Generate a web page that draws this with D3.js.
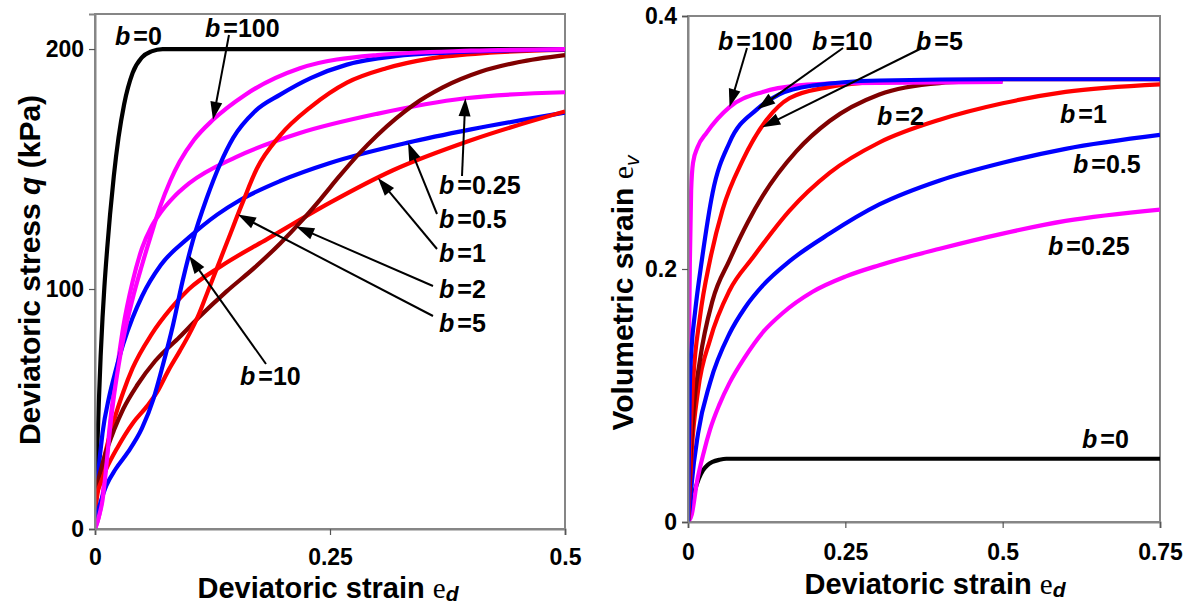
<!DOCTYPE html>
<html><head><meta charset="utf-8">
<script src="https://cdn.jsdelivr.net/npm/d3@7"></script>
<style>
body{margin:0;background:#fff}
text{font-family:"Liberation Sans",Arial,sans-serif;font-weight:bold;fill:#000}
</style></head><body>
<svg id="chart" width="1191" height="607"></svg>
<script>
// ---- Deviatoric stress q (kPa) vs deviatoric strain, one curve per b ----
const qB0   = [[0,0],[0.002,28],[0.004,52],[0.006,72],[0.008,88],[0.01,101],[0.013,117],[0.016,131],[0.02,147],[0.025,163],[0.031,177],[0.04,190],[0.05,196.5],[0.06,199],[0.072,200],[0.5,200]];
const qB025 = [[0,0],[0.004,5],[0.008,14],[0.012,28],[0.016,44],[0.02,57],[0.025,71],[0.03,84],[0.04,103],[0.05,117],[0.06,126],[0.07,132],[0.083,138],[0.1,144],[0.15,155],[0.218,165],[0.3,173],[0.394,179.5],[0.5,182]];
const qB05  = [[0,5],[0.003,21],[0.008,40],[0.015,55],[0.022,66],[0.03,77],[0.04,88],[0.05,97],[0.07,110],[0.1,121.5],[0.13,131],[0.154,137],[0.197,145],[0.25,152.5],[0.333,161],[0.4,166.5],[0.5,173.5]];
const qB1   = [[0,8],[0.005,20],[0.01,30],[0.02,45],[0.03,57],[0.04,67],[0.06,81],[0.081,92],[0.1,100],[0.134,109.5],[0.184,121],[0.25,136],[0.317,149.5],[0.4,162],[0.5,174]];
const qB2   = [[0,15],[0.01,30],[0.02,41],[0.03,50],[0.045,60],[0.064,70],[0.09,80],[0.11,88],[0.14,99],[0.17,109],[0.197,119],[0.22,128.5],[0.24,137.5],[0.26,147],[0.28,156],[0.3,164],[0.32,171],[0.338,176.5],[0.37,184],[0.41,190.5],[0.45,194.5],[0.5,197.5]];
const qB5   = [[0,13],[0.012,25],[0.024,34],[0.04,44],[0.055,51],[0.066,57],[0.078,66],[0.09,74],[0.1,81],[0.11,89],[0.12,99],[0.13,109],[0.141,120],[0.157,136],[0.172,150],[0.197,164],[0.23,176],[0.268,186],[0.31,192],[0.356,196],[0.42,198.5],[0.5,199.6]];
const qB10  = [[0,3],[0.005,10],[0.012,18],[0.022,25],[0.035,32],[0.05,42],[0.062,54],[0.072,68],[0.083,85],[0.093,103],[0.104,120],[0.119,138],[0.133,152],[0.147,163],[0.17,174],[0.197,181],[0.23,188],[0.268,193.5],[0.32,197],[0.374,198.5],[0.5,199.8]];
const qB100 = [[0,0],[0.004,5],[0.008,12],[0.012,26],[0.016,42],[0.02,55],[0.025,68],[0.03,79],[0.04,96],[0.05,110],[0.06,123],[0.069,134],[0.08,145],[0.09,153],[0.105,162],[0.1255,170.5],[0.16,181],[0.218,192],[0.3,197.5],[0.4,199.3],[0.5,200]];

// ---- Volumetric strain vs deviatoric strain, one curve per b ----
const evB0   = [[0,0],[0.003,0.006],[0.006,0.015],[0.011,0.025],[0.017,0.034],[0.024,0.041],[0.031,0.045],[0.039,0.0475],[0.05,0.0492],[0.061,0.05],[0.75,0.05]];
const evB025 = [[0,0],[0.006,0.006],[0.014,0.031],[0.025,0.055],[0.035,0.073],[0.05,0.093],[0.066,0.11],[0.09,0.13],[0.119,0.15],[0.15,0.165],[0.198,0.182],[0.25,0.194],[0.304,0.203],[0.4,0.216],[0.5,0.228],[0.6,0.238],[0.75,0.247]];
const evB05  = [[0,0],[0.003,0.012],[0.006,0.031],[0.016,0.07],[0.035,0.11],[0.066,0.149],[0.09,0.169],[0.119,0.187],[0.161,0.206],[0.225,0.228],[0.304,0.251],[0.4,0.27],[0.5,0.284],[0.6,0.295],[0.75,0.306]];
const evB1   = [[0,0],[0.002,0.02],[0.006,0.057],[0.016,0.104],[0.035,0.144],[0.066,0.183],[0.103,0.209],[0.161,0.246],[0.225,0.276],[0.304,0.3],[0.4,0.318],[0.5,0.331],[0.6,0.34],[0.75,0.346]];
const evB2   = [[0,0],[0.003,0.04],[0.008,0.083],[0.019,0.128],[0.039,0.175],[0.066,0.207],[0.095,0.237],[0.119,0.258],[0.172,0.293],[0.225,0.317],[0.304,0.338],[0.4,0.347],[0.5,0.349]];
const evB5   = [[0,0],[0.003,0.057],[0.008,0.11],[0.019,0.162],[0.035,0.207],[0.055,0.247],[0.087,0.286],[0.125,0.318],[0.161,0.335],[0.225,0.344],[0.304,0.348],[0.5,0.35],[0.75,0.35]];
const evB10  = [[0,0],[0.001,0.04],[0.003,0.11],[0.006,0.14],[0.011,0.165],[0.022,0.207],[0.039,0.26],[0.066,0.3],[0.109,0.326],[0.145,0.338],[0.198,0.345],[0.304,0.349],[0.5,0.35],[0.75,0.35]];
const evB100 = [[0,0],[0.001,0.08],[0.002,0.16],[0.003,0.207],[0.005,0.262],[0.008,0.284],[0.015,0.296],[0.03,0.308],[0.066,0.328],[0.119,0.34],[0.172,0.345],[0.252,0.347],[0.5,0.348]];

// tick values
const qTicksX  = [0, 0.25, 0.5];
const qTicksY  = [0, 100, 200];
const evTicksX = [0, 0.25, 0.5, 0.75];
const evTicksY = [0, 0.2, 0.4];

const COL = {black:"#000000", magenta:"#ff00ff", blue:"#0000ff", red:"#ff0000", maroon:"#800000"};

const svg = d3.select("#chart");

// value of a curve at strain x (linear between stored points)
function valueAt(curve, x){
  for (let i = 1; i < curve.length; i++){
    if (x <= curve[i][0]){
      const [x0,y0] = curve[i-1], [x1,y1] = curve[i];
      return y0 + (y1 - y0) * (x - x0) / (x1 - x0);
    }
  }
  return curve[curve.length-1][1];
}

function arrow(g, x1, y1, x2, y2){
  const dx = x2 - x1, dy = y2 - y1, L = Math.hypot(dx, dy), ux = dx / L, uy = dy / L;
  const hl = 18, hw = 6;
  const bx = x2 - ux * hl, by = y2 - uy * hl;
  g.append("line").attr("x1", x1).attr("y1", y1).attr("x2", bx + ux*2).attr("y2", by + uy*2)
    .attr("stroke", "#000").attr("stroke-width", 2);
  g.append("path")
    .attr("d", `M${x2},${y2}L${bx - uy*hw},${by + ux*hw}L${bx + uy*hw},${by - ux*hw}Z`)
    .attr("fill", "#000");
}

function bLabel(g, x, y, val){
  const t = g.append("text").attr("x", x).attr("y", y).style("font-size", "25px");
  t.append("tspan").style("font-style", "italic").text("b");
  t.append("tspan").attr("dx", 3).text("=" + val);
}

function panel(opt){
  const {x0, x1, y0, y1, xDom, yDom, xTicks, yTicks, yFmt, curves, id, xPad} = opt;
  const x = d3.scaleLinear().domain(xDom).range([x0, x1]);
  const y = d3.scaleLinear().domain(yDom).range([y0, y1]);
  const g = svg.append("g");

  g.append("clipPath").attr("id", id).append("rect")
    .attr("x", x0).attr("y", y1).attr("width", x1 - x0).attr("height", y0 - y1);

  // frame
  g.append("rect").attr("x", x0).attr("y", y1).attr("width", x1 - x0).attr("height", y0 - y1)
    .attr("fill", "none").attr("stroke", "#868686").attr("stroke-width", 2);

  const line = d3.line().x(d => x(d[0])).y(d => y(d[1])).curve(d3.curveMonotoneX);
  const cg = g.append("g").attr("clip-path", `url(#${id})`);
  curves.forEach(c => {
    cg.append("path").datum(c.data).attr("d", line)
      .attr("fill", "none").attr("stroke", c.color).attr("stroke-width", 4.2)
      .attr("stroke-linejoin", "round");
  });

  const ax = g.append("g").attr("transform", `translate(0,${y0})`)
    .call(d3.axisBottom(x).tickValues(xTicks).tickFormat(d3.format("~g")).tickSize(6).tickPadding(xPad));
  const ay = g.append("g").attr("transform", `translate(${x0},0)`)
    .call(d3.axisLeft(y).tickValues(yTicks).tickFormat(yFmt).tickSize(6).tickPadding(5));
  [ax, ay].forEach(a => {
    a.select(".domain").attr("stroke", "#868686").attr("stroke-width", 2);
    a.selectAll(".tick line").attr("stroke", "#555").attr("stroke-width", 1.2);
    a.selectAll("text").style("font-size", "23px").style("font-family", "'Liberation Sans',Arial,sans-serif")
      .style("font-weight", "bold").attr("fill", "#000");
  });
  return {x, y, g};
}

// ---- left panel ----
const L = panel({
  id: "clipL", x0: 95, x1: 565, y0: 529, y1: 14, xPad: 14,
  xDom: [0, 0.5], yDom: [0, 214.6], xTicks: qTicksX, yTicks: qTicksY, yFmt: d3.format("d"),
  curves: [
    {data: qB0, color: COL.black},
    {data: qB025, color: COL.magenta},
    {data: qB05, color: COL.blue},
    {data: qB1, color: COL.red},
    {data: qB2, color: COL.maroon},
    {data: qB5, color: COL.red},
    {data: qB10, color: COL.blue},
    {data: qB100, color: COL.magenta}
  ]
});

// ---- right panel ----
const R = panel({
  id: "clipR", x0: 688, x1: 1160, y0: 522, y1: 16, xPad: 16,
  xDom: [0, 0.75], yDom: [0, 0.4], xTicks: evTicksX, yTicks: evTicksY, yFmt: d3.format("~g"),
  curves: [
    {data: evB0, color: COL.black},
    {data: evB025, color: COL.magenta},
    {data: evB05, color: COL.blue},
    {data: evB1, color: COL.red},
    {data: evB2, color: COL.maroon},
    {data: evB5, color: COL.red},
    {data: evB100, color: COL.magenta},
    {data: evB10, color: COL.blue}
  ]
});

// ---- annotations: arrows point at a curve at the given strain ----
const ann = svg.append("g");
function pointer(P, curve, xs, tx, ty){
  arrow(ann, tx, ty, P.x(xs), P.y(valueAt(curve, xs)));
}
pointer(L, qB100, 0.1255, 229, 35);
pointer(L, qB025, 0.394, 462, 176);
pointer(L, qB05, 0.333, 437, 214);
pointer(L, qB1, 0.301, 437, 249);
pointer(L, qB2, 0.214, 433, 286);
pointer(L, qB5, 0.152, 433, 316);
pointer(L, qB10, 0.1, 266, 364);

pointer(R, evB100, 0.066, 747, 48);
pointer(R, evB10, 0.11, 843, 48);
pointer(R, evB5, 0.118, 922, 48);

bLabel(ann, 115, 45, "0");
bLabel(ann, 205, 37, "100");
bLabel(ann, 439, 194, "0.25");
bLabel(ann, 439, 228, "0.5");
bLabel(ann, 439, 262, "1");
bLabel(ann, 439, 298, "2");
bLabel(ann, 439, 332, "5");
bLabel(ann, 240, 385, "10");

bLabel(ann, 718, 50, "100");
bLabel(ann, 812, 50, "10");
bLabel(ann, 916, 50, "5");
bLabel(ann, 877, 125, "2");
bLabel(ann, 1060, 123, "1");
bLabel(ann, 1073, 173, "0.5");
bLabel(ann, 1048, 255, "0.25");
bLabel(ann, 1082, 448, "0");

// ---- axis titles ----
function strainTitle(cx, y){
  const t = svg.append("text").attr("x", cx).attr("y", y).attr("text-anchor", "middle").style("font-size", "29px");
  t.append("tspan").text("Deviatoric strain ");
  t.append("tspan").style("font-family", "'Liberation Serif',serif").style("font-weight", "normal").text("e");
  t.append("tspan").attr("dy", 3).style("font-style", "italic").style("font-size", "21px").text("d");
}
strainTitle(328, 598);
strainTitle(935, 594);

const yl = svg.append("text").attr("transform", "translate(40,270) rotate(-90)")
  .attr("text-anchor", "middle").style("font-size", "30px");
yl.append("tspan").text("Deviatoric stress ");
yl.append("tspan").style("font-style", "italic").text("q");
yl.append("tspan").text(" (kPa)");

const yr = svg.append("text").attr("transform", "translate(633,293) rotate(-90)")
  .attr("text-anchor", "middle").style("font-size", "30px");
yr.append("tspan").text("Volumetric strain  ");
yr.append("tspan").style("font-family", "'Liberation Serif',serif").style("font-weight", "normal").text("e");
yr.append("tspan").attr("dy", 6).style("font-style", "italic").style("font-weight", "normal").style("font-size", "21px").text("v");
</script>
</body></html>
